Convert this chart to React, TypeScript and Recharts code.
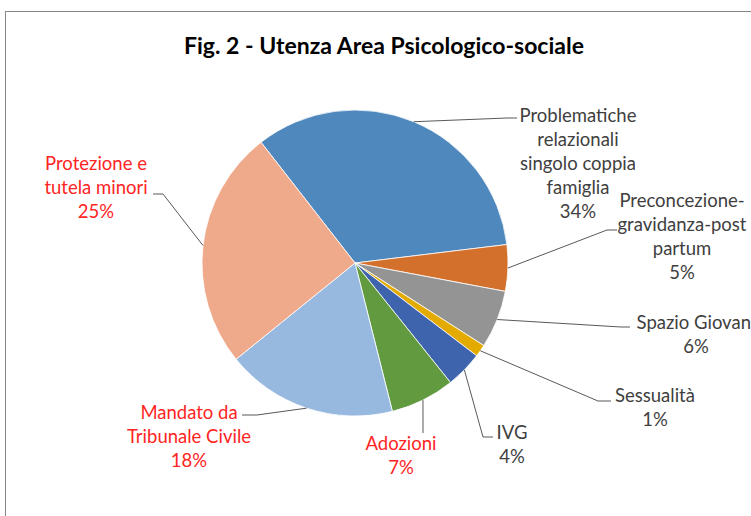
import { PieChart, Pie, Cell } from "recharts"

const categories = [
  "Problematiche\nrelazionali\nsingolo coppia\nfamiglia",
  "Preconcezione-\ngravidanza-post\npartum",
  "Spazio Giovani",
  "Sessualità",
  "IVG",
  "Adozioni",
  "Mandato da\nTribunale Civile",
  "Protezione e\ntutela minori",
]
const shares = [33.6, 4.9, 6.1, 1.3, 3.9, 6.8, 18.1, 25.3]

const colors = [
  "#4f88bc",
  "#d2702c",
  "#949494",
  "#e3aa00",
  "#3e64ad",
  "#629a3f",
  "#97b8df",
  "#efa98b",
]
const redLabel = [false, false, false, false, false, true, true, true]

// label placement, relative to pie centre: text (first line centre), leader elbow, leader end
const spots = [
  { tx: 223, ty: -148, ex: 152, ey: -145, lx: 162, ly: -145 },
  { tx: 327, ty: -63, ex: 252, ey: -33, lx: 262, ly: -33 },
  { tx: 341, ty: 59, ex: 266, ey: 64, lx: 275, ly: 64 },
  { tx: 300, ty: 132, ex: 243, ey: 138, lx: 256, ly: 138 },
  { tx: 157, ty: 169, ex: 128, ey: 174, lx: 138, ly: 174 },
  { tx: 46, ty: 180, ex: 68, ey: 170, lx: 68, ly: 170 },
  { tx: -166, ty: 149, ex: -98, ey: 152, lx: -113, ly: 152 },
  { tx: -259, ty: -100, ex: -192, ey: -69, lx: -202, ly: -69 },
]

const data = categories.map((name, i) => ({ name, value: shares[i] }))

const RADIAN = Math.PI / 180
const FONT = "Lato, 'Open Sans', sans-serif"

function renderLabel(props: any) {
  const { cx, cy, midAngle, outerRadius, index, percent, name } = props
  const s = spots[index]
  const x0 = cx + outerRadius * Math.cos(-midAngle * RADIAN)
  const y0 = cy + outerRadius * Math.sin(-midAngle * RADIAN)
  const lines = [...String(name).split("\n"), `${Math.round(percent * 100)}%`]
  const fill = redLabel[index] ? "#ff2424" : "#404040"
  return (
    <g key={`lbl-${index}`}>
      <polyline
        points={`${x0},${y0} ${cx + s.ex},${cy + s.ey} ${cx + s.lx},${cy + s.ly}`}
        fill="none"
        stroke="#595959"
        strokeWidth={1}
      />
      <text
        x={cx + s.tx}
        y={cy + s.ty}
        textAnchor="middle"
        fill={fill}
        fontSize={18.5}
        fontFamily={FONT}
      >
        {lines.map((l, j) => (
          <tspan key={j} x={cx + s.tx} y={cy + s.ty + j * 24} dominantBaseline="central">
            {l}
          </tspan>
        ))}
      </text>
    </g>
  )
}

export default function App() {
  return (
    <div
      style={{
        position: "absolute",
        left: 0,
        top: 0,
        width: 751,
        height: 516,
        overflow: "hidden",
        background: "#fff",
      }}
    >
      <div
        style={{
          position: "absolute",
          left: 5,
          top: 11,
          width: 800,
          height: 600,
          borderTop: "1px solid #868686",
          borderLeft: "1px solid #868686",
        }}
      />
      <div
        style={{
          position: "absolute",
          left: 0,
          top: 29,
          width: 768,
          textAlign: "center",
          fontFamily: FONT,
          fontWeight: 700,
          fontSize: 23,
          color: "#000",
          lineHeight: "32px",
        }}
      >
        Fig. 2 - Utenza Area Psicologico-sociale
      </div>
      <div style={{ position: "absolute", left: 0, top: 0 }}>
        <PieChart width={751} height={516} margin={{ top: 0, right: 0, bottom: 0, left: 0 }}>
          <Pie
            data={data}
            dataKey="value"
            nameKey="name"
            cx={355}
            cy={263}
            outerRadius={153}
            startAngle={127.9}
            endAngle={-232.1}
            stroke="#ffffff"
            strokeWidth={0.8}
            label={renderLabel}
            labelLine={false}
            isAnimationActive={false}
          >
            {data.map((d, i) => (
              <Cell key={d.name} fill={colors[i]} />
            ))}
          </Pie>
        </PieChart>
      </div>
    </div>
  )
}
